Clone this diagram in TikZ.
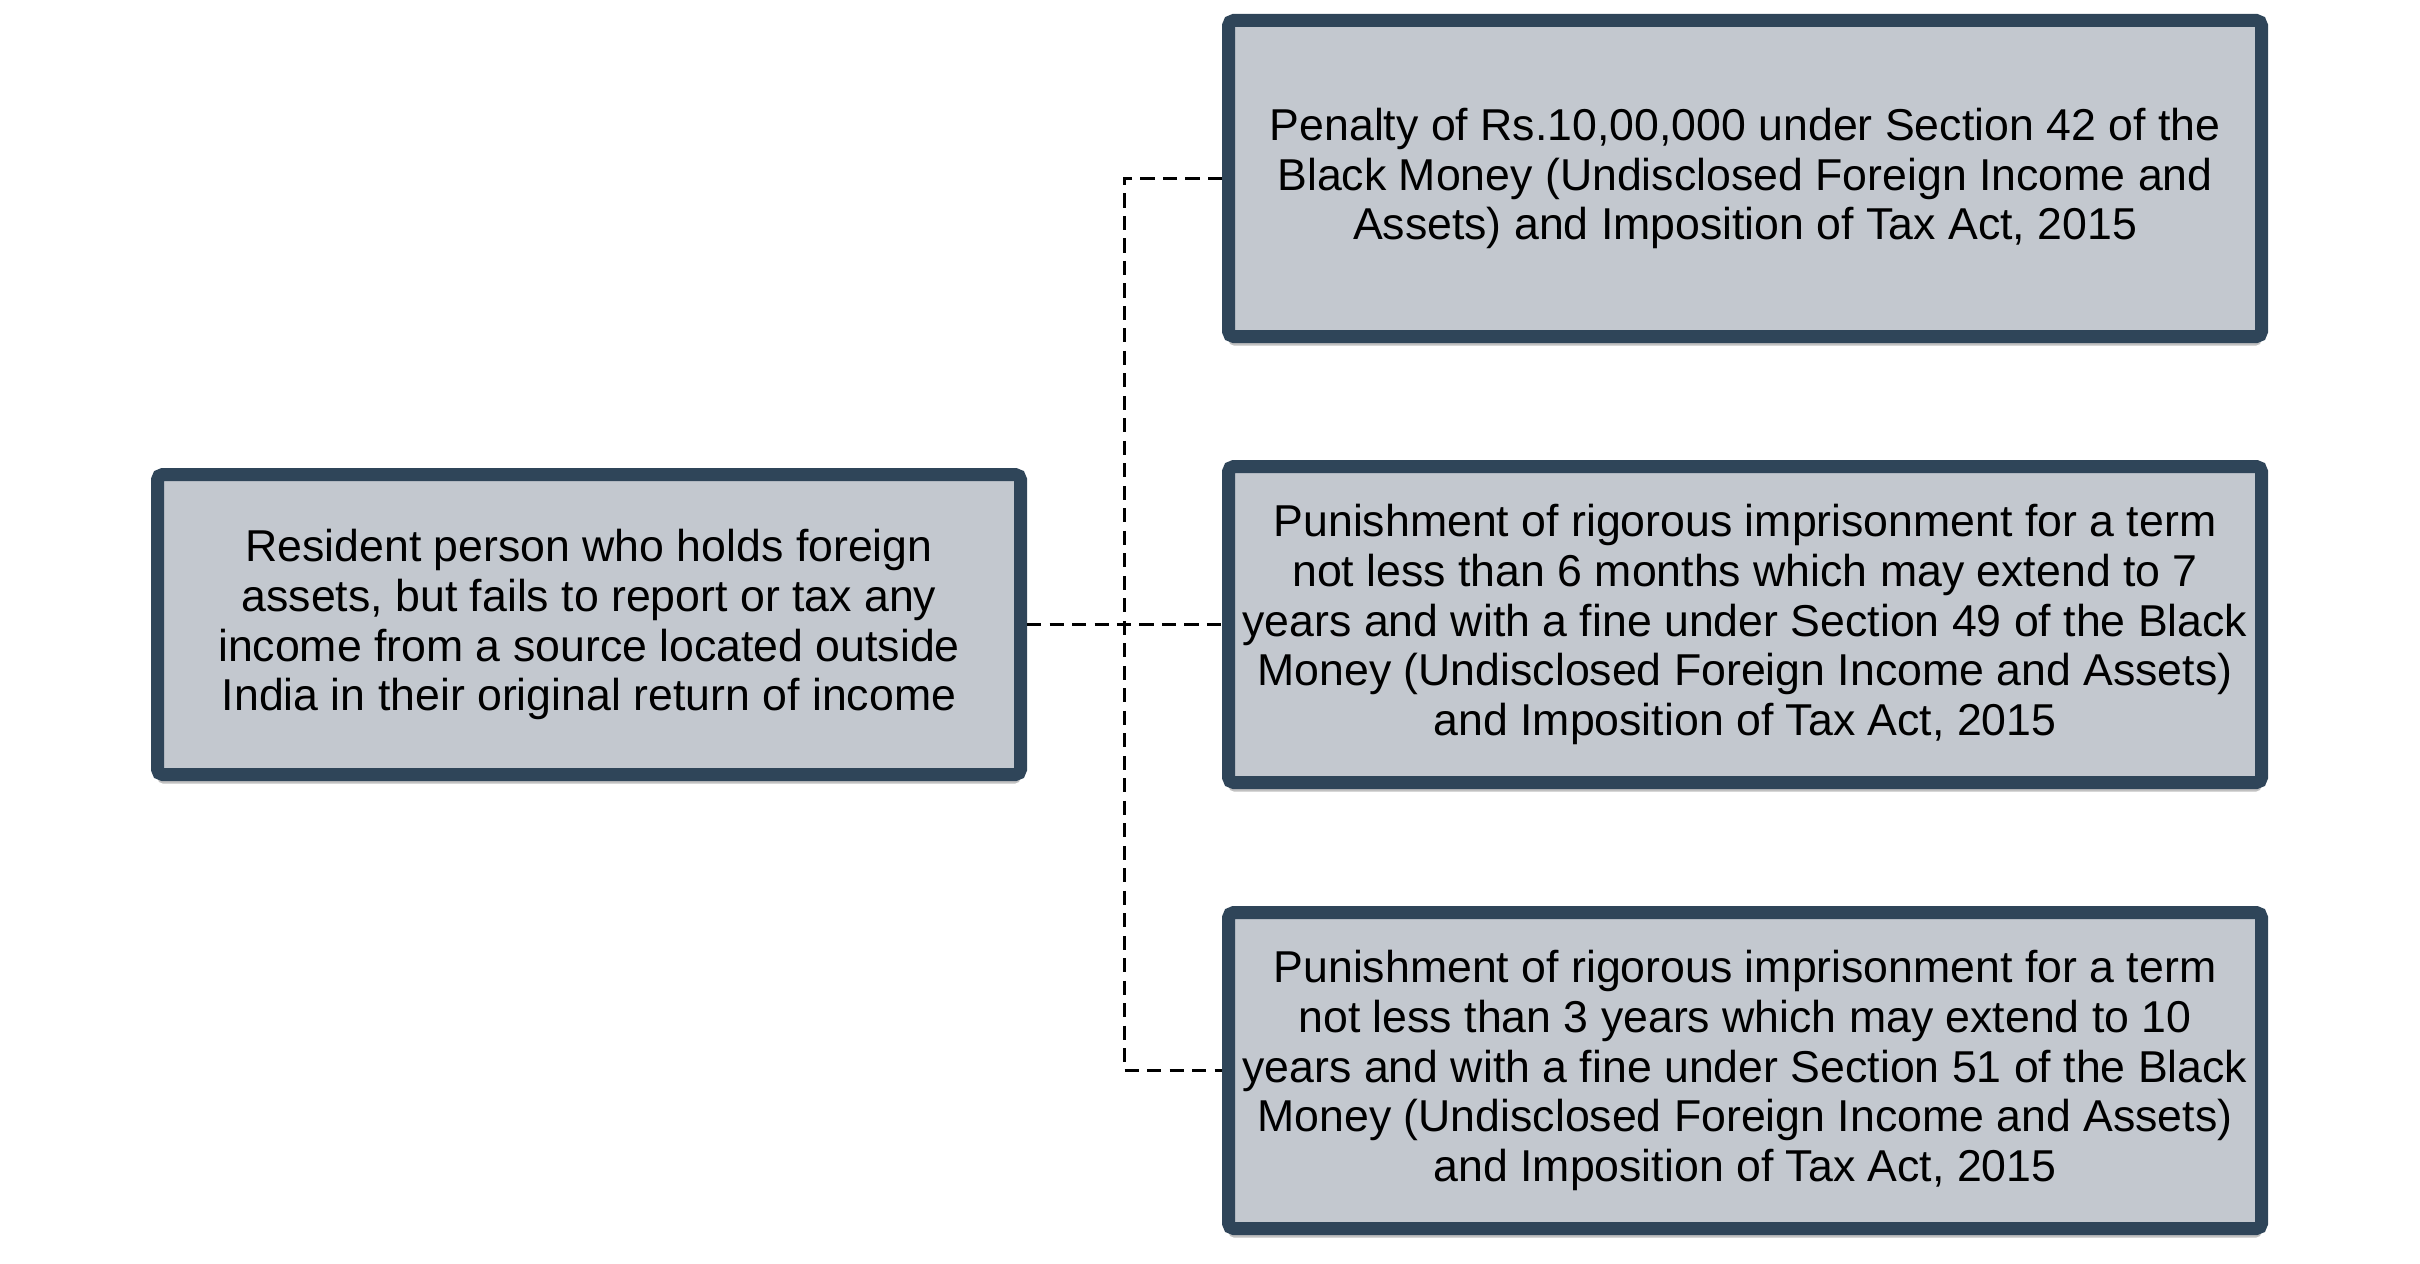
\documentclass[tikz,border=0pt]{standalone}
\usepackage{fontspec}
\setmainfont{Liberation Sans}
\usepackage{xcolor}
\usepackage{tikz}
\usetikzlibrary{arrows,positioning,shadows}
\definecolor{boxline}{HTML}{2F4559}
\definecolor{boxfill}{HTML}{C3C8CF}
\begin{document}
\begin{tikzpicture}[
  node distance=1.17cm and 1.95cm,
  box/.style={draw=boxline, fill=boxfill, line width=0.13cm, rounded corners=1.5pt,
    align=center, inner sep=0pt, font=\fontsize{12.7}{14.2}\selectfont,
    drop shadow={shadow xshift=0pt, shadow yshift=-0.09cm, opacity=0.35, fill=black!70}},
  srcbox/.style={box, minimum width=8.63cm, minimum height=3.0cm},
  resbox/.style={box, minimum width=10.33cm, minimum height=3.16cm},
  link/.style={dashed, line width=0.8pt, dash pattern=on 4pt off 2.4pt}]
\useasboundingbox (0,0) rectangle (24.2,12.63);
\node[srcbox] (src) at (5.89,6.385)
  {Resident person who holds foreign\\assets, but fails to report or tax any\\income from a source located outside\\India in their original return of income};
\node[resbox, right=of src] (b2)
  {Punishment of rigorous imprisonment for a term\\not less than 6 months which may extend to 7\\years and with a fine under Section 49 of the Black\\Money (Undisclosed Foreign Income and Assets)\\and Imposition of Tax Act, 2015};
\node[resbox, above=of b2] (b1)
  {Penalty of Rs.10,00,000 under Section 42 of the\\Black Money (Undisclosed Foreign Income and\\Assets) and Imposition of Tax Act, 2015};
\node[resbox, below=of b2] (b3)
  {Punishment of rigorous imprisonment for a term\\not less than 3 years which may extend to 10\\years and with a fine under Section 51 of the Black\\Money (Undisclosed Foreign Income and Assets)\\and Imposition of Tax Act, 2015};
\coordinate[right=0.975cm of src.east] (jn);
% connectors
\draw[link] (src.east) -- (b2.west);
\draw[link] (b1.west) -| (jn) |- (b3.west);
\end{tikzpicture}
\end{document}
